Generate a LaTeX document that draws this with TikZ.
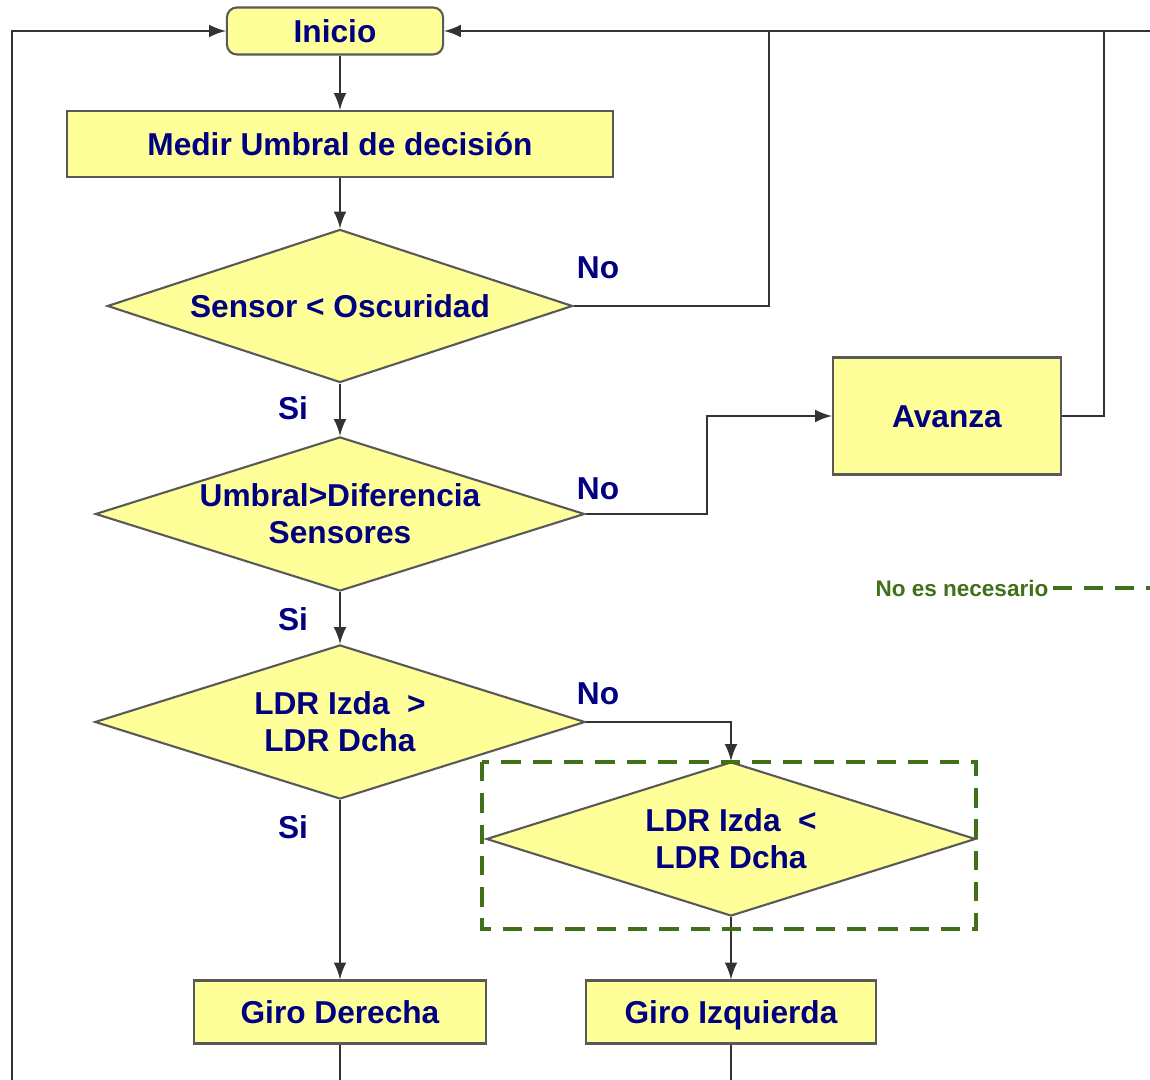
\documentclass[tikz,border=0pt]{standalone}
\usepackage{fontspec}
\setmainfont{Liberation Sans}
\usetikzlibrary{arrows,shapes,calc}
\definecolor{navy}{RGB}{0,0,128}
\definecolor{boxfill}{RGB}{255,255,153}
\definecolor{optgreen}{RGB}{64,112,24}

\begin{document}
\begin{tikzpicture}[>=latex,              % arrow tip
                    x=0.01cm, y=-0.01cm,   % pixel grid
                    font=\bfseries\fontsize{9pt}{10.5pt}\selectfont,
                    box/.style={draw=black!65, line width=0.6pt, fill=boxfill, text=navy, inner sep=0pt,
                                text height=0.8em, text depth=0.16em},
                    decision/.style={diamond, draw=black!65, line width=0.6pt, fill=boxfill, text=navy,
                                     inner sep=-1cm, align=center},
                    lbl/.style={text=navy},
                    conn/.style={draw=black!80, line width=0.65pt},
                    optional/.style={optgreen, line width=1.1pt, dash pattern=on 5.5pt off 3.4pt}
                    ]

\useasboundingbox (0,0) rectangle (1150,1080);

% Start
\node[box, rounded corners=1mm, minimum width=2.16cm, minimum height=0.47cm] (inicio) at (335,31) {Inicio};
\node[box, minimum width=5.45cm, minimum height=0.66cm] (medir) at (340,144) {Medir Umbral de decisión};

% Decisions
\node[decision, minimum width=4.65cm, minimum height=1.53cm] (sensor) at (340,306) {Sensor < Oscuridad};
\node[decision, minimum width=4.89cm, minimum height=1.54cm] (umbral) at (340,514) {Umbral>Diferencia\\Sensores};
\node[decision, minimum width=4.90cm, minimum height=1.54cm] (ldrmayor) at (340,722) {LDR Izda\ \ >\\LDR Dcha};
\node[decision, minimum width=4.89cm, minimum height=1.54cm] (ldrmenor) at (731,839) {LDR Izda\ \ <\\LDR Dcha};

% Actions
\node[box, minimum width=2.28cm, minimum height=1.17cm] (avanza) at (947,416) {Avanza};
\node[box, minimum width=2.91cm, minimum height=0.63cm] (girder) at (340,1012) {Giro Derecha};
\node[box, minimum width=2.90cm, minimum height=0.63cm] (girizq) at (731,1012) {Giro Izquierda};

% Yes / No
\node[lbl] (no1) at (598,268) {No};
\node[lbl] (si1) at (293,408) {Si};
\node[lbl] (no2) at (598,489) {No};
\node[lbl] (si2) at (293,619) {Si};
\node[lbl] (no3) at (598,694) {No};
\node[lbl] (si3) at (293,827) {Si};

% loop corners
\coordinate (izq) at (12,1080);
\coordinate (nudo1) at (769,31);
\coordinate (nudo2) at (1104,31);
\coordinate (dcha) at (1150,31);

% main flow
\draw[conn,->] (medir.north |- inicio.south) -- (medir.north);
\draw[conn,->] (medir.south) -- (sensor.north);
\draw[conn,->] (sensor.south) -- (umbral.north);
\draw[conn,->] (umbral.south) -- (ldrmayor.north);
\draw[conn,->] (ldrmayor.south) -- (girder.north);
\draw[conn,->] (ldrmayor.east) -| (ldrmenor.north);
\draw[conn,->] (ldrmenor.south) -- (girizq.north);
\draw[conn,->] (umbral.east) -- ++(121,0) |- (avanza.west);

% back to start
\draw[conn,->] (izq) |- (inicio.west);
\draw[conn,->] (dcha) -- (inicio.east);
\draw[conn] (sensor.east) -| (nudo1);
\draw[conn] (avanza.east) -| (nudo2);
\draw[conn] (girder.south) -- (girder.south |- izq);
\draw[conn] (girizq.south) -- (girizq.south |- izq);

% optional block
\draw[optional] (482,762) rectangle (976,929);
\node[text=optgreen, font=\bfseries\fontsize{6.4pt}{7pt}\selectfont, inner xsep=1pt] (nota) at (962,588) {No es necesario};
\coordinate (notafin) at (1150,588);
\draw[optional] (nota.east) -- (notafin);

\end{tikzpicture}
\end{document}
